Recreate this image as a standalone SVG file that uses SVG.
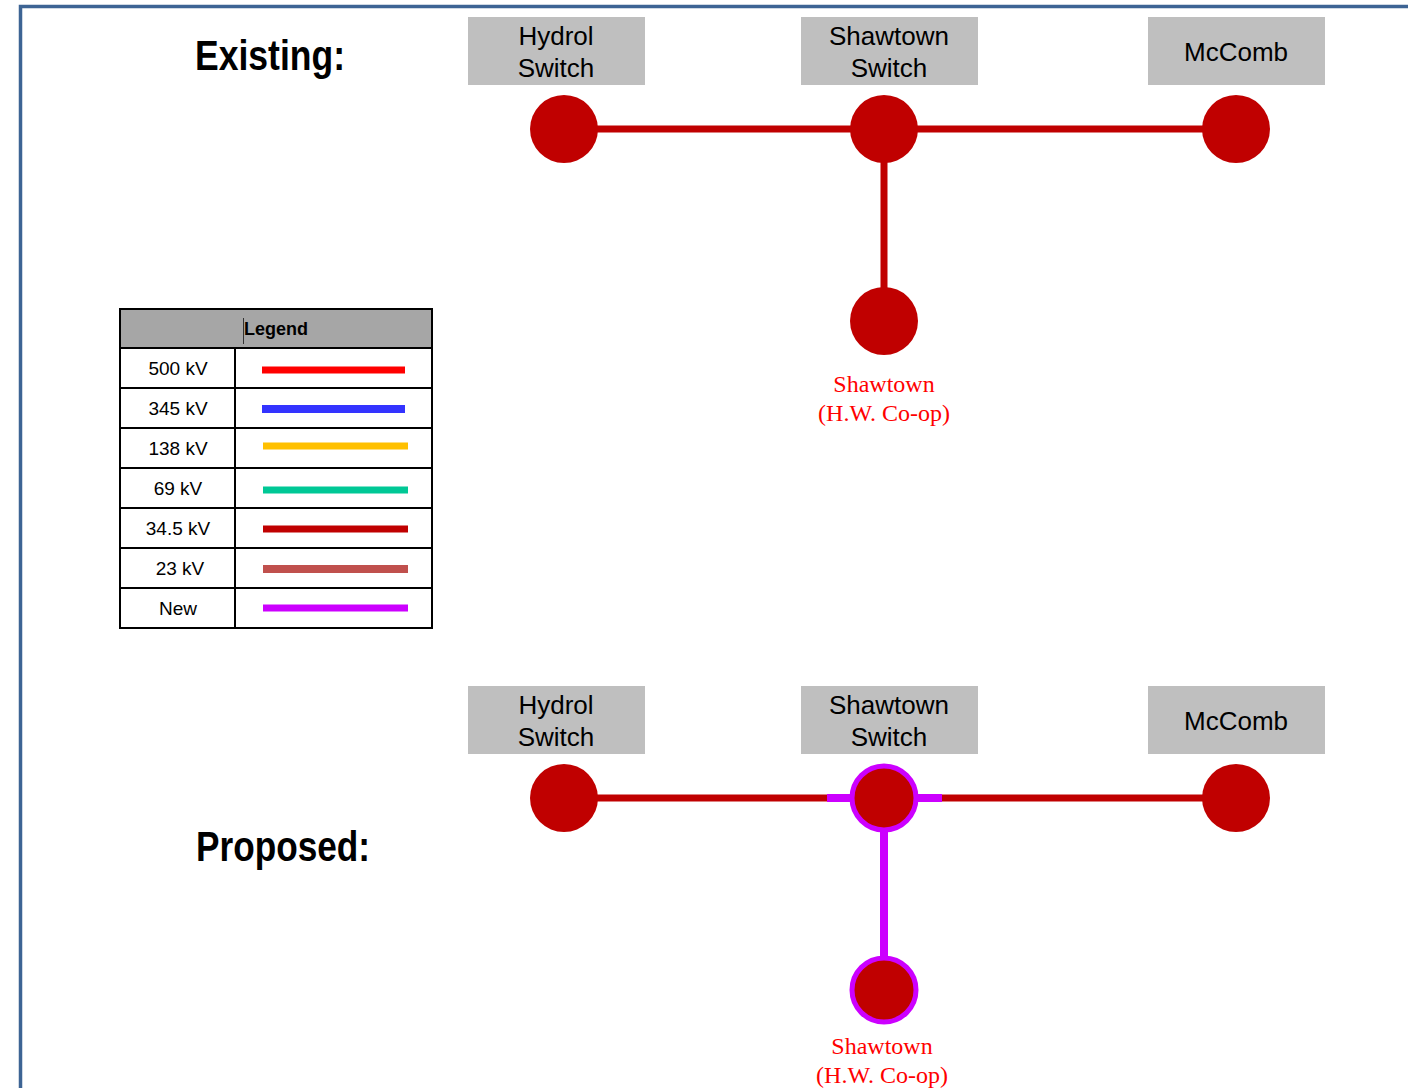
<svg xmlns="http://www.w3.org/2000/svg" width="1408" height="1088" viewBox="0 0 1408 1088">
<style>
.box{fill:#bfbfbf}
.bl{font-family:"Liberation Sans",Arial,sans-serif;font-size:26px;fill:#000;text-anchor:middle}
.sub{fill:#c00000}
.line{stroke:#c00000;stroke-width:7;fill:none}
.new{stroke:#cc00ff;stroke-width:8;fill:none}
.rl{font-family:"Liberation Serif","Times New Roman",serif;font-size:24px;fill:#ff0000;text-anchor:middle}
.title{font-family:"Liberation Sans",Arial,sans-serif;font-weight:bold;font-size:42px;fill:#000}
.lg{font-family:"Liberation Sans",Arial,sans-serif;font-size:19px;fill:#000;text-anchor:middle}
.cell{fill:#fff;stroke:#000;stroke-width:2}
</style>
<rect x="0" y="0" width="1408" height="1088" fill="#fff"/>
<path d="M20.5 1088 V6.5 H1408" fill="none" stroke="#3d6494" stroke-width="3.5"/>
<text class="title" x="195" y="70" textLength="150" lengthAdjust="spacingAndGlyphs">Existing:</text>
<text class="title" x="196" y="861" textLength="174" lengthAdjust="spacingAndGlyphs">Proposed:</text>

<g id="connectors">
<line class="line" x1="564" y1="129" x2="1236" y2="129"/>
<line class="line" x1="884" y1="129" x2="884" y2="321"/>
<line class="line" x1="564" y1="798" x2="1236" y2="798"/>
<line class="new" x1="827" y1="798" x2="942" y2="798"/>
<line class="new" x1="884" y1="798" x2="884" y2="990"/>
</g>

<g id="existing-hydrol">
<rect class="box" x="468" y="17" width="177" height="68"/>
<text class="bl" x="556" y="45">Hydrol</text>
<text class="bl" x="556" y="77">Switch</text>
<circle class="sub" cx="564" cy="129" r="34"/>
</g>
<g id="existing-shawtown-switch">
<rect class="box" x="801" y="17" width="177" height="68"/>
<text class="bl" x="889" y="45">Shawtown</text>
<text class="bl" x="889" y="77">Switch</text>
<circle class="sub" cx="884" cy="129" r="34"/>
</g>
<g id="existing-mccomb">
<rect class="box" x="1148" y="17" width="177" height="68"/>
<text class="bl" x="1236" y="61">McComb</text>
<circle class="sub" cx="1236" cy="129" r="34"/>
</g>
<g id="existing-shawtown-coop">
<circle class="sub" cx="884" cy="321" r="34"/>
<text class="rl" x="884" y="392">Shawtown</text>
<text class="rl" x="884" y="421">(H.W. Co-op)</text>
</g>

<g id="proposed-hydrol">
<rect class="box" x="468" y="686" width="177" height="68"/>
<text class="bl" x="556" y="714">Hydrol</text>
<text class="bl" x="556" y="746">Switch</text>
<circle class="sub" cx="564" cy="798" r="34"/>
</g>
<g id="proposed-shawtown-switch">
<rect class="box" x="801" y="686" width="177" height="68"/>
<text class="bl" x="889" y="714">Shawtown</text>
<text class="bl" x="889" y="746">Switch</text>
<circle class="sub" cx="884" cy="798" r="32" stroke="#cc00ff" stroke-width="5"/>
</g>
<g id="proposed-mccomb">
<rect class="box" x="1148" y="686" width="177" height="68"/>
<text class="bl" x="1236" y="730">McComb</text>
<circle class="sub" cx="1236" cy="798" r="34"/>
</g>
<g id="proposed-shawtown-coop">
<circle class="sub" cx="884" cy="990" r="32" stroke="#cc00ff" stroke-width="5"/>
<text class="rl" x="882" y="1054">Shawtown</text>
<text class="rl" x="882" y="1083">(H.W. Co-op)</text>
</g>

<g id="legend">
<rect x="120" y="309" width="312" height="39" fill="#a6a6a6" stroke="#000" stroke-width="2"/>
<text x="276" y="335" font-family="'Liberation Sans',Arial,sans-serif" font-size="18" font-weight="bold" text-anchor="middle">Legend</text>
<line x1="243.5" y1="318" x2="243.5" y2="344" stroke="#333" stroke-width="1"/>
<g>
<rect class="cell" x="120" y="348" width="115" height="40"/><rect class="cell" x="235" y="348" width="197" height="40"/>
<rect class="cell" x="120" y="388" width="115" height="40"/><rect class="cell" x="235" y="388" width="197" height="40"/>
<rect class="cell" x="120" y="428" width="115" height="40"/><rect class="cell" x="235" y="428" width="197" height="40"/>
<rect class="cell" x="120" y="468" width="115" height="40"/><rect class="cell" x="235" y="468" width="197" height="40"/>
<rect class="cell" x="120" y="508" width="115" height="40"/><rect class="cell" x="235" y="508" width="197" height="40"/>
<rect class="cell" x="120" y="548" width="115" height="40"/><rect class="cell" x="235" y="548" width="197" height="40"/>
<rect class="cell" x="120" y="588" width="115" height="40"/><rect class="cell" x="235" y="588" width="197" height="40"/>
</g>
<text class="lg" x="178" y="375">500 kV</text>
<text class="lg" x="178" y="415">345 kV</text>
<text class="lg" x="178" y="455">138 kV</text>
<text class="lg" x="178" y="495">69 kV</text>
<text class="lg" x="178" y="535">34.5 kV</text>
<text class="lg" x="180" y="575">23 kV</text>
<text class="lg" x="178" y="615">New</text>
<line x1="262" y1="370" x2="405" y2="370" stroke="#ff0000" stroke-width="7"/>
<line x1="262" y1="409" x2="405" y2="409" stroke="#3333ff" stroke-width="8"/>
<line x1="263" y1="446" x2="408" y2="446" stroke="#ffc000" stroke-width="7"/>
<line x1="263" y1="490" x2="408" y2="490" stroke="#00c896" stroke-width="7"/>
<line x1="263" y1="529" x2="408" y2="529" stroke="#c00000" stroke-width="7"/>
<line x1="263" y1="569" x2="408" y2="569" stroke="#c0504d" stroke-width="8"/>
<line x1="263" y1="608" x2="408" y2="608" stroke="#cc00ff" stroke-width="7"/>
</g>
</svg>
